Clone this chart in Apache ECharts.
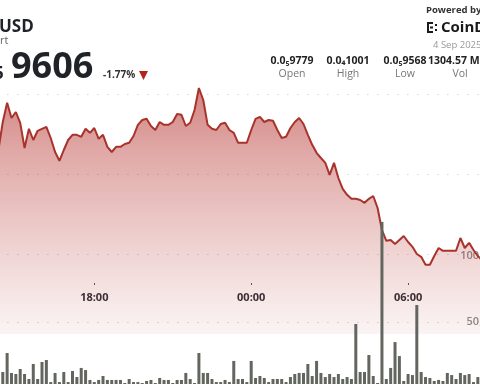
<!DOCTYPE html>
<html><head><meta charset="utf-8">
<script src="https://cdn.jsdelivr.net/npm/echarts@6/dist/echarts.min.js"></script>
<style>html,body{margin:0;padding:0;background:#fff;overflow:hidden}#c{width:480px;height:384px}</style>
</head><body><div id="c"></div>
<script>
// time of first sample (hours from 3 Sep 00:00) and sample step (10 minutes)
const firstHour = 14 + 20/60;
const stepHours = 10/60;
// x-axis tick labels (hours from 3 Sep 00:00)
const tickHours = [12, 18, 24, 30, 36];
// price (USD) every 10 minutes
const price = [
 9.860e-6, 9.930e-6, 9.978e-6, 9.940e-6, 9.955e-6, 9.928e-6, 9.865e-6, 9.913e-6, 9.885e-6, 9.908e-6,
 9.913e-6, 9.918e-6, 9.890e-6, 9.855e-6, 9.833e-6, 9.860e-6, 9.885e-6, 9.898e-6, 9.898e-6, 9.893e-6,
 9.913e-6, 9.903e-6,
 9.915e-6, 9.888e-6, 9.898e-6, 9.868e-6, 9.855e-6, 9.868e-6, 9.868e-6, 9.875e-6, 9.878e-6, 9.895e-6,
 9.923e-6, 9.935e-6, 9.938e-6, 9.920e-6, 9.910e-6, 9.930e-6, 9.923e-6, 9.923e-6, 9.930e-6, 9.950e-6,
 9.948e-6, 9.920e-6, 9.928e-6, 9.960e-6, 10.015e-6, 9.985e-6, 9.923e-6, 9.913e-6, 9.910e-6, 9.925e-6,
 9.928e-6, 9.910e-6, 9.903e-6, 9.878e-6, 9.878e-6, 9.878e-6, 9.910e-6, 9.938e-6, 9.943e-6, 9.930e-6,
 9.935e-6, 9.933e-6, 9.910e-6, 9.890e-6, 9.893e-6, 9.915e-6, 9.930e-6, 9.940e-6, 9.925e-6, 9.898e-6,
 9.873e-6, 9.853e-6, 9.840e-6, 9.828e-6, 9.798e-6, 9.828e-6, 9.790e-6, 9.763e-6, 9.748e-6, 9.738e-6,
 9.738e-6, 9.735e-6, 9.728e-6, 9.738e-6, 9.745e-6, 9.715e-6, 9.660e-6, 9.633e-6, 9.635e-6, 9.625e-6,
 9.635e-6, 9.645e-6, 9.630e-6, 9.618e-6, 9.600e-6, 9.593e-6, 9.573e-6, 9.573e-6, 9.595e-6, 9.615e-6,
 9.608e-6, 9.608e-6, 9.608e-6, 9.608e-6, 9.640e-6, 9.615e-6, 9.628e-6, 9.610e-6, 9.595e-6, 9.585e-6
];
// volume every 10 minutes
const volume = [
 7600, 12100, 26500, 11400, 10600, 14400, 10600, 6800, 18200, 6800,
 19700, 21200, 4500, 11400, 4500, 12100, 4500, 12900, 8300, 15200,
 13600, 6100,
 4500, 6100, 9100, 6100, 6100, 6100, 6100, 3800, 6800, 4500,
 4500, 3800, 5300, 6100, 3800, 7600, 6100, 6100, 3800, 6100,
 6100, 11400, 6800, 3800, 26500, 11400, 11400, 6800, 4500, 4500,
 6100, 4500, 20500, 6800, 6800, 4500, 20500, 7600, 9100, 7600,
 4500, 6800, 6800, 6800, 4500, 8300, 10600, 11400, 11400, 18200,
 9100, 20500, 11400, 8300, 10600, 8300, 10600, 6800, 8300, 6800,
 48500, 12100, 12100, 25000, 9100, 3800, 125800, 6800, 15200, 34800,
 24200, 5300, 10600, 9800, 62900, 12100, 8300, 7600, 5300, 6100,
 5300, 11400, 9800, 6800, 11400, 9800, 10600, 4500, 8300
];
const header = {pair:'USD', sub:'rt', last:'9606', lastSub:'5', change:'-1.77%', date:'4 Sep 2025'};
const statValues = ['0.0\u20859779', '0.0\u20841001', '0.0\u20859568', '1304.57 M'];
const statLabels = ['Open', 'High', 'Low', 'Vol'];

const priceData = price.map((p, i) => [firstHour + i*stepHours, Math.round(p*1e9)/10]);
const volData = volume.map((v, i) => [firstHour + i*stepHours, v]);

const F = '"Open Sans", "Noto Sans", sans-serif';
const gridL = -62.6, gridR = -85;
const pad = n => (n < 10 ? '0' : '') + n;
const dotted = {color:'rgba(120,120,120,0.45)', width:1, type:[1,9]};

const statX = [292, 348, 405, 460];
const graphics = [
  {type:'text', x:-1, y:27, style:{text:header.pair, font:'bold 17px '+F, fill:'#1f2328', textVerticalAlign:'middle'}},
  {type:'text', x:0, y:41, style:{text:header.sub, font:'11px '+F, fill:'#666', textVerticalAlign:'middle'}},
  {type:'text', x:-6, y:74, style:{text:header.lastSub, font:'bold 17px '+F, fill:'#1f2328', textVerticalAlign:'middle'}},
  {type:'text', x:11, y:68, style:{text:header.last, font:'bold 36px '+F, fill:'#1f2328', textVerticalAlign:'middle'}},
  {type:'text', x:103, y:75.5, style:{text:header.change, font:'bold 10px '+F, fill:'#333', textVerticalAlign:'middle'}},
  {type:'polygon', shape:{points:[[139,71],[148,71],[143.5,80]]}, style:{fill:'#b3241d'}},
  {type:'text', x:426, y:10.5, style:{text:'Powered by', font:'bold 9.5px '+F, fill:'#333', textVerticalAlign:'middle'}},
  {type:'rect', shape:{x:427,y:22,width:2,height:11}, style:{fill:'#1a1a1a'}},
  {type:'rect', shape:{x:427,y:22,width:6,height:2}, style:{fill:'#1a1a1a'}},
  {type:'rect', shape:{x:427,y:31,width:6,height:2}, style:{fill:'#1a1a1a'}},
  {type:'rect', shape:{x:430,y:26.5,width:3,height:2}, style:{fill:'#1a1a1a'}},
  {type:'rect', shape:{x:435,y:24,width:2,height:2}, style:{fill:'#1a1a1a'}},
  {type:'rect', shape:{x:435,y:29,width:2,height:2}, style:{fill:'#1a1a1a'}},
  {type:'text', x:441, y:27.5, style:{text:'CoinDesk', font:'bold 15px '+F, fill:'#1a1a1a', textVerticalAlign:'middle'}},
  {type:'text', x:433, y:45.5, style:{text:header.date, font:'9.5px '+F, fill:'#9a9a9a', textVerticalAlign:'middle'}}
];
statValues.forEach((t, i) => {
  graphics.push({type:'text', x: i===3 ? 428 : statX[i], y:61, style:{text:t, font:'bold 10.5px '+F, fill:'#222', textAlign: i===3 ? 'left' : 'center', textVerticalAlign:'middle'}});
  graphics.push({type:'text', x:statX[i], y:74.5, style:{text:statLabels[i], font:'10.5px '+F, fill:'#777', textAlign:'center', textVerticalAlign:'middle'}});
});

const xBase = {type:'value', min:tickHours[0], max:tickHours[tickHours.length-1], interval:6};
const gridBase = {left:gridL, right:gridR, outerBoundsMode:'none', containLabel:false};

const chart = echarts.init(document.getElementById('c'), null, {renderer:'canvas'});
chart.setOption({
  animation:false,
  backgroundColor:'#fff',
  grid:[
    Object.assign({top:14, bottom:50}, gridBase),
    Object.assign({top:256, bottom:-4}, gridBase),
    Object.assign({top:0, bottom:101}, gridBase)
  ],
  xAxis:[
    Object.assign({gridIndex:0, show:false}, xBase),
    Object.assign({gridIndex:1, show:false}, xBase),
    Object.assign({gridIndex:2, axisLine:{show:false}, splitLine:{show:false},
      axisTick:{show:true, length:2, lineStyle:{color:'#555'}},
      axisLabel:{margin:9, fontFamily:F, fontSize:11, fontWeight:'bold', color:'#2b2f36',
        formatter: v => pad(((v % 24) + 24) % 24) + ':00'}}, xBase)
  ],
  yAxis:[
    {gridIndex:0, type:'value', min:940, max:1020, interval:20, position:'right',
      axisLine:{show:false}, axisTick:{show:false}, axisLabel:{show:false},
      splitLine:{show:true, showMinLine:false, showMaxLine:false, lineStyle:dotted}},
    {gridIndex:1, type:'value', min:0, max:100000, interval:50000, position:'right',
      axisLine:{show:false}, axisTick:{show:false},
      axisLabel:{inside:true, margin:64, showMinLabel:false, fontFamily:F, fontSize:11, fontWeight:600, color:'#8c8c8c',
        formatter: v => v.toLocaleString('en-US')},
      splitLine:{show:true, showMinLine:false, showMaxLine:false, lineStyle:dotted}},
    {gridIndex:2, type:'value', show:false}
  ],
  series:[
    {type:'line', xAxisIndex:0, yAxisIndex:0, data:priceData, symbol:'none', smooth:false,
      lineStyle:{color:'#a8322c', width:2},
      areaStyle:{color:{type:'linear', x:0, y:88, x2:0, y2:365, global:true, colorStops:[
        {offset:0, color:'rgba(178,42,36,0.82)'},
        {offset:0.23, color:'rgba(178,42,36,0.58)'},
        {offset:0.52, color:'rgba(178,42,36,0.34)'},
        {offset:0.78, color:'rgba(178,42,36,0.15)'},
        {offset:1, color:'rgba(178,42,36,0.0)'}]}},
      z:2},
    {type:'bar', xAxisIndex:1, yAxisIndex:1, data:volData, barWidth:3, clip:false,
      itemStyle:{color:'#62665f'}, z:3}
  ],
  graphic:graphics
});
</script></body></html>
